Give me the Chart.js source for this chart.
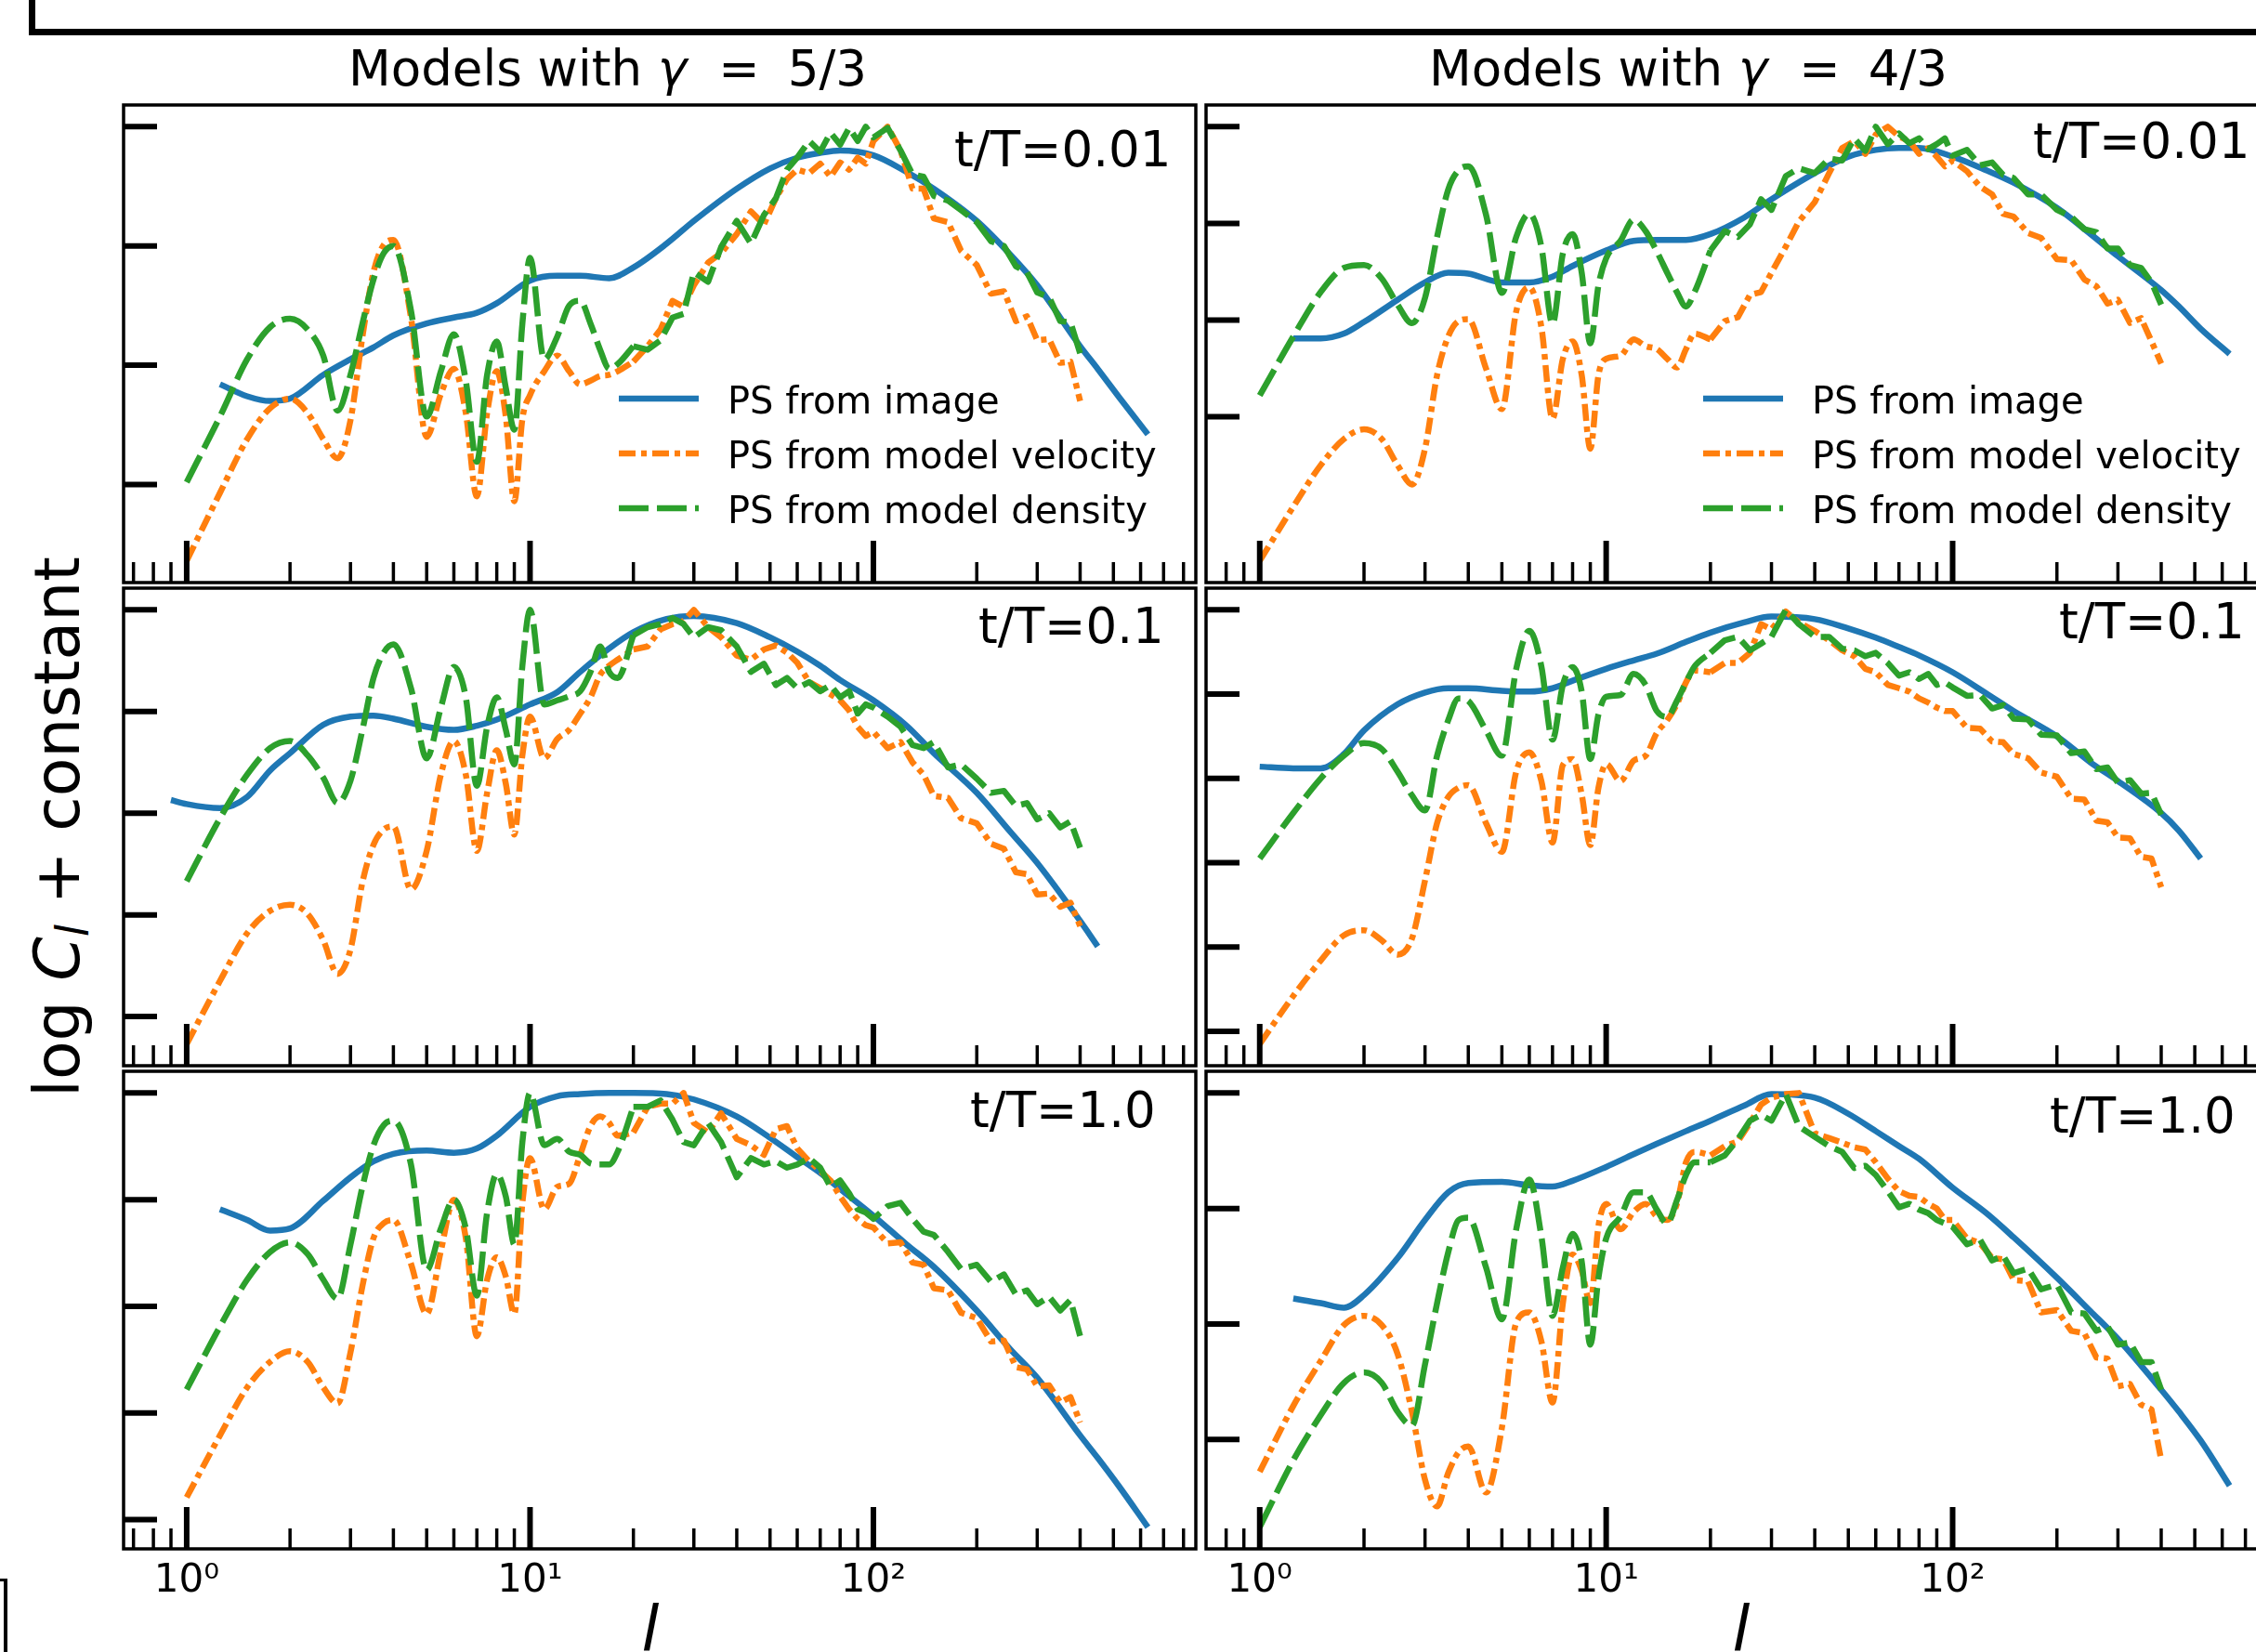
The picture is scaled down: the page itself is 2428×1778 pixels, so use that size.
<!DOCTYPE html>
<html>
<head>
<meta charset="utf-8">
<script src="https://cdn.jsdelivr.net/npm/chart.js@4.4.1/dist/chart.umd.min.js"></script>
<style>
  html, body { margin: 0; padding: 0; background: #fff; }
  body { width: 2428px; height: 1778px; position: relative; overflow: hidden; font-family: "DejaVu Sans", sans-serif; color: #000; }
  .abs { position: absolute; white-space: nowrap; line-height: 1; }
  .title { font-size: 53px; }
  .title i { margin-right: 4px; }
  .eq { margin: 0 30px; }
  .tlabel { font-size: 53px; }
  .legtext { font-size: 40px; }
  .axlabel { font-size: 68px; }
  .axlabel sub { font-size: 70%; vertical-align: -0.22em; line-height: 0; }
  canvas { position: absolute; }
  #outerBox { position: absolute; left: 31px; top: -20px; width: 2500px; height: 58px; box-sizing: border-box; border-left: 7px solid #000; border-bottom: 7px solid #000; }
  #cornerBox { position: absolute; left: -20px; top: 1699px; width: 28px; height: 120px; box-sizing: border-box; border-top: 3px solid #000; border-right: 4px solid #000; }
</style>
</head>
<body>
<div id="outerBox"></div>
<div id="cornerBox"></div>

<div class="abs title" style="left:375px; top:47px;">Models with <i>γ</i><span class="eq">=</span>5/3</div>
<div class="abs title" style="left:1538px; top:47px;">Models with <i>γ</i><span class="eq">=</span>4/3</div>

<div class="abs tlabel" style="left:1027px; top:134px;">t/T=0.01</div>
<div class="abs tlabel" style="left:2188px; top:125px;">t/T=0.01</div>
<div class="abs tlabel" style="left:1053px; top:647px;">t/T=0.1</div>
<div class="abs tlabel" style="left:2216px; top:642px;">t/T=0.1</div>
<div class="abs tlabel" style="left:1044px; top:1168px;">t/T=1.0</div>
<div class="abs tlabel" style="left:2206px; top:1174px;">t/T=1.0</div>

<div class="abs axlabel" style="left:0; top:0; transform-origin:0 0; transform: translate(28px, 890px) rotate(-90deg) translate(-50%, 0);">log <i>C</i><sub><i>l</i></sub> + constant</div>
<div class="abs axlabel" style="left:650px; width:100px; text-align:center; top:1720px;"><i>l</i></div>
<div class="abs axlabel" style="left:1824px; width:100px; text-align:center; top:1720px;"><i>l</i></div>

<script>
// Multipole grids
const ellLow  = [1, 1.25, 1.5, 1.75, 2, 2.25, 2.5, 2.75, 3, 3.25, 3.5, 3.75, 4, 4.5, 5, 5.5, 6, 6.5, 7, 7.5, 8, 8.5, 9, 9.5, 10,
                 11, 12, 13, 14, 15, 16, 17, 18, 20];
const ellHigh = [22, 24, 26, 28, 30, 33, 36, 40, 44, 48, 52, 56, 60, 65, 70, 75, 80, 85, 90, 95, 100,
                 110, 120, 130, 140, 150, 165, 180, 200, 220, 240, 260, 280, 300, 325, 350, 375, 400];
const ell = ellLow.concat(ellHigh);
const ellImage = [0.9, 1, 1.25, 1.5, 1.75, 2, 2.5, 3, 3.5, 4, 5, 6, 7, 8, 10, 12, 14, 17, 20, 25, 30, 40,
                  50, 60, 70, 80, 100, 125, 150, 200, 250, 300, 400, 450, 520, 630];

// gamma = 5/3, t/T = 0.01
const imageA = [null, null, -2.16, -2.26, -2.30, -2.28, -2.08, -1.95, -1.85, -1.75, -1.65, -1.60, -1.56, -1.48, -1.29, -1.25,
  -1.25, -1.27, -1.18, -0.98, -0.79, -0.52, -0.35, -0.26, -0.22, -0.20, -0.24, -0.38, -0.52, -0.79, -1.07, -1.33, -1.84, -2.03, -2.27, -2.58];
const velA = [-3.64, -3.07, -2.62, -2.36, -2.28, -2.40, -2.62, -2.78, -2.46, -1.76, -1.22, -0.99, -0.95, -1.60, -2.60, -2.24, -2.03,
  -2.40, -3.10, -2.40, -2.05, -2.43, -3.14, -2.45, -2.25, -2.05, -1.92, -2.05, -2.16, -2.13, -2.09, -2.08, -2.05, -1.97,
  -1.84, -1.70, -1.46, -1.51, -1.33, -1.14, -1.06, -0.90, -0.71, -0.82, -0.60, -0.44, -0.36, -0.39, -0.31, -0.42, -0.30, -0.36, -0.26,
  -0.31, -0.12, 0.0, -0.20, -0.52, -0.52, -0.77, -0.80, -1.04, -1.16, -1.40, -1.38, -1.63, -1.59, -1.79, -1.78, -1.98, -1.97, -2.30];
const densA = [-2.98, -2.43, -1.95, -1.68, -1.61, -1.70, -1.92, -2.38, -2.08, -1.65, -1.28, -1.06, -1.00, -1.54, -2.43, -2.05, -1.74,
  -2.13, -2.81, -2.08, -1.80, -2.19, -2.54, -1.65, -1.10, -1.95, -1.76, -1.50, -1.46, -1.65, -1.87, -2.03, -1.99, -1.84,
  -1.87, -1.79, -1.60, -1.57, -1.22, -1.30, -1.01, -0.79, -0.98, -0.74, -0.60, -0.36, -0.26, -0.12, -0.21, -0.05, -0.15, -0.01, -0.12,
  0.0, -0.09, -0.01, -0.20, -0.40, -0.42, -0.58, -0.62, -0.70, -0.80, -0.96, -1.00, -1.17, -1.22, -1.39, -1.43, -1.63, -1.64, -1.90];

// gamma = 4/3, t/T = 0.01
const imageB = [null, null, -2.19, -2.19, -2.14, -2.02, -1.79, -1.61, -1.51, -1.52, -1.61, -1.61, -1.55, -1.44, -1.28, -1.18,
  -1.17, -1.17, -1.11, -0.94, -0.75, -0.48, -0.31, -0.24, -0.22, -0.22, -0.31, -0.45, -0.58, -0.84, -1.11, -1.34, -1.69, -1.86, -2.09, -2.35];
const velB = [-4.49, -3.93, -3.50, -3.23, -3.13, -3.23, -3.50, -3.70, -3.33, -2.57, -2.17, -2.01, -1.99, -2.50, -2.92, -1.91, -1.66,
  -2.07, -3.02, -2.40, -2.22, -2.57, -3.33, -2.57, -2.40, -2.37, -2.20, -2.27, -2.30, -2.40, -2.49, -2.30, -2.14, -2.20,
  -2.01, -1.97, -1.74, -1.71, -1.51, -1.24, -0.98, -0.78, -0.48, -0.22, -0.15, -0.28, -0.08, 0.0, -0.10, -0.15, -0.28, -0.22, -0.31,
  -0.41, -0.35, -0.46, -0.62, -0.70, -0.90, -0.93, -1.10, -1.15, -1.37, -1.38, -1.58, -1.65, -1.83, -1.79, -2.03, -1.98, -2.22, -2.45];
const densB = [-2.78, -2.17, -1.71, -1.46, -1.43, -1.57, -1.84, -2.03, -1.77, -1.14, -0.65, -0.45, -0.41, -0.91, -1.72, -1.14, -0.90,
  -1.24, -2.04, -1.31, -1.11, -1.51, -2.24, -1.64, -1.36, -1.18, -0.96, -1.08, -1.29, -1.51, -1.71, -1.86, -1.71, -1.28,
  -1.08, -1.14, -1.01, -0.75, -0.86, -0.51, -0.43, -0.48, -0.33, -0.35, -0.12, -0.25, 0.0, -0.18, -0.07, -0.17, -0.12, -0.23, -0.18,
  -0.12, -0.30, -0.24, -0.40, -0.37, -0.50, -0.53, -0.70, -0.70, -0.86, -0.93, -1.06, -1.09, -1.26, -1.26, -1.43, -1.46, -1.61, -1.84];

// gamma = 5/3, t/T = 0.1
const imageC = [-1.87, -1.91, -1.95, -1.84, -1.58, -1.41, -1.13, -1.05, -1.04, -1.07, -1.15, -1.18, -1.14, -1.08, -0.93, -0.81,
  -0.61, -0.38, -0.22, -0.09, -0.06, -0.13, -0.27, -0.41, -0.55, -0.69, -0.89, -1.14, -1.41, -1.80, -2.18, -2.49, -3.06, -3.31, null, null];
const velC = [-4.27, -3.65, -3.18, -2.96, -2.90, -2.99, -3.25, -3.58, -3.34, -2.68, -2.31, -2.16, -2.13, -2.75, -2.37, -1.62, -1.29,
  -1.62, -2.37, -1.80, -1.38, -1.71, -2.21, -1.43, -1.05, -1.46, -1.27, -1.18, -1.02, -0.86, -0.64, -0.55, -0.49, -0.39,
  -0.36, -0.19, -0.14, -0.11, 0.0, -0.17, -0.27, -0.45, -0.49, -0.39, -0.35, -0.42, -0.52, -0.71, -0.77, -0.83, -0.89, -0.99, -1.15,
  -1.24, -1.20, -1.36, -1.30, -1.50, -1.62, -1.83, -1.85, -2.05, -2.10, -2.30, -2.35, -2.58, -2.60, -2.80, -2.79, -2.92, -2.88, -3.11];
const densC = [-2.67, -2.05, -1.62, -1.36, -1.29, -1.43, -1.65, -1.90, -1.68, -1.18, -0.67, -0.42, -0.34, -0.77, -1.46, -0.96, -0.56,
  -0.86, -1.73, -1.15, -0.86, -1.18, -1.52, -0.55, 0.0, -0.93, -0.89, -0.85, -0.80, -0.61, -0.36, -0.61, -0.67, -0.25,
  -0.17, -0.14, -0.08, -0.14, -0.27, -0.17, -0.20, -0.36, -0.61, -0.53, -0.74, -0.67, -0.77, -0.71, -0.80, -0.74, -0.86, -0.80, -1.02,
  -0.93, -0.96, -1.05, -1.15, -1.33, -1.36, -1.30, -1.55, -1.52, -1.66, -1.80, -1.78, -1.93, -1.90, -2.06, -2.00, -2.14, -2.08, -2.34];

// gamma = 4/3, t/T = 0.1
const imageD = [null, -1.86, -1.88, -1.88, -1.71, -1.43, -1.12, -0.98, -0.93, -0.93, -0.96, -0.97, -0.93, -0.84, -0.70, -0.60,
  -0.52, -0.38, -0.27, -0.15, -0.08, -0.11, -0.22, -0.33, -0.44, -0.54, -0.74, -0.99, -1.20, -1.50, -1.81, -2.03, -2.41, -2.62, -2.95, null];
const velD = [-5.15, -4.58, -4.16, -3.86, -3.80, -3.92, -4.09, -3.90, -3.21, -2.53, -2.22, -2.11, -2.08, -2.53, -2.87, -1.92, -1.69,
  -2.03, -2.76, -1.84, -1.77, -2.19, -2.79, -2.11, -1.83, -2.03, -1.79, -1.73, -1.46, -1.31, -1.12, -0.86, -0.72, -0.74,
  -0.63, -0.63, -0.51, -0.17, -0.23, -0.02, -0.15, -0.25, -0.36, -0.48, -0.55, -0.70, -0.74, -0.89, -0.93, -0.97, -1.05, -1.10, -1.16,
  -1.20, -1.20, -1.40, -1.41, -1.56, -1.57, -1.71, -1.76, -1.93, -1.98, -2.24, -2.25, -2.50, -2.52, -2.70, -2.71, -2.93, -2.95, -3.29];
const densD = [-2.95, -2.41, -2.00, -1.73, -1.58, -1.65, -1.92, -2.20, -2.38, -1.73, -1.31, -1.05, -1.08, -1.43, -1.73, -0.70, -0.25,
  -0.67, -1.54, -0.89, -0.68, -0.97, -1.77, -1.24, -1.03, -1.01, -0.76, -0.89, -1.20, -1.27, -1.08, -0.86, -0.67, -0.51,
  -0.36, -0.32, -0.48, -0.40, -0.32, 0.0, -0.17, -0.32, -0.32, -0.46, -0.48, -0.55, -0.51, -0.63, -0.78, -0.74, -0.82, -0.76, -0.89,
  -0.86, -0.92, -1.02, -1.01, -1.17, -1.13, -1.29, -1.30, -1.48, -1.49, -1.70, -1.68, -1.89, -1.87, -2.05, -2.02, -2.18, -2.17, -2.43];

// gamma = 5/3, t/T = 1.0
const imageE = [null, null, -1.09, -1.19, -1.29, -1.27, -1.01, -0.79, -0.64, -0.57, -0.54, -0.56, -0.52, -0.40, -0.13, -0.03,
  -0.01, 0.0, 0.0, -0.01, -0.06, -0.22, -0.42, -0.60, -0.75, -0.90, -1.15, -1.42, -1.63, -2.04, -2.40, -2.67, -3.21, -3.42, -3.69, -4.07];
const velE = [-3.79, -3.21, -2.76, -2.52, -2.42, -2.52, -2.76, -2.91, -2.43, -1.81, -1.36, -1.22, -1.19, -1.60, -2.07, -1.48, -1.00,
  -1.36, -2.28, -1.75, -1.54, -1.72, -2.07, -1.03, -0.61, -1.09, -0.88, -0.85, -0.58, -0.31, -0.22, -0.28, -0.40, -0.37,
  -0.13, -0.10, -0.10, 0.0, -0.28, -0.37, -0.19, -0.43, -0.49, -0.58, -0.34, -0.31, -0.52, -0.64, -0.73, -0.82, -0.97, -1.09, -1.18,
  -1.24, -1.26, -1.41, -1.40, -1.59, -1.61, -1.83, -1.85, -2.06, -2.11, -2.33, -2.32, -2.57, -2.59, -2.75, -2.74, -2.90, -2.85, -3.09];
const densE = [-2.78, -2.19, -1.75, -1.49, -1.40, -1.51, -1.75, -1.93, -1.42, -0.88, -0.49, -0.30, -0.26, -0.67, -1.66, -1.27, -1.00,
  -1.27, -1.90, -1.12, -0.76, -0.97, -1.42, -0.46, 0.0, -0.49, -0.43, -0.55, -0.58, -0.66, -0.67, -0.67, -0.55, -0.13,
  -0.13, -0.07, -0.25, -0.46, -0.49, -0.28, -0.46, -0.79, -0.61, -0.67, -0.64, -0.70, -0.67, -0.61, -0.70, -0.88, -0.82, -0.94, -1.09,
  -1.12, -1.18, -1.06, -1.03, -1.18, -1.30, -1.33, -1.49, -1.65, -1.61, -1.77, -1.70, -1.89, -1.85, -1.98, -1.91, -2.04, -1.94, -2.28];

// gamma = 4/3, t/T = 1.0
const imageF = [null, null, -1.78, -1.82, -1.86, -1.75, -1.43, -1.10, -0.86, -0.78, -0.77, -0.80, -0.81, -0.76, -0.64, -0.53,
  -0.44, -0.33, -0.24, -0.11, -0.01, -0.04, -0.18, -0.33, -0.46, -0.57, -0.82, -1.04, -1.25, -1.60, -1.89, -2.13, -2.57, -2.76, -3.01, -3.40];
const velF = [-3.28, -2.71, -2.32, -2.01, -1.93, -2.01, -2.26, -2.76, -3.35, -3.58, -3.29, -3.11, -3.06, -3.46, -2.90, -1.99, -1.90,
  -2.15, -2.68, -1.82, -1.40, -1.54, -1.82, -1.15, -0.96, -1.18, -1.03, -0.96, -1.07, -1.10, -0.96, -0.60, -0.51, -0.54,
  -0.46, -0.42, -0.26, -0.10, -0.04, -0.01, 0.0, -0.35, -0.39, -0.43, -0.47, -0.49, -0.60, -0.74, -0.85, -0.89, -0.90, -0.96, -1.00,
  -1.10, -1.10, -1.26, -1.30, -1.43, -1.44, -1.62, -1.63, -1.90, -1.88, -2.06, -2.08, -2.29, -2.30, -2.54, -2.52, -2.70, -2.74, -3.18];
const densF = [-3.76, -3.18, -2.79, -2.51, -2.42, -2.51, -2.76, -2.88, -2.35, -1.82, -1.38, -1.10, -1.08, -1.51, -1.96, -1.18, -0.75,
  -1.24, -1.93, -1.51, -1.22, -1.46, -2.18, -1.60, -1.26, -1.07, -0.86, -0.86, -1.01, -1.13, -0.93, -0.71, -0.60, -0.60,
  -0.54, -0.40, -0.24, -0.19, -0.24, -0.01, -0.29, -0.38, -0.46, -0.51, -0.65, -0.63, -0.71, -0.85, -0.99, -0.96, -1.01, -1.04, -1.10,
  -1.13, -1.16, -1.31, -1.27, -1.45, -1.41, -1.56, -1.52, -1.70, -1.66, -1.90, -1.91, -2.06, -2.02, -2.18, -2.16, -2.33, -2.33, -2.57];

const seriesNames = ['PS from image', 'PS from model velocity', 'PS from model density'];
const majorTicks = [1, 10, 100];
const minorTicks = [0.7, 0.8, 0.9, 2, 3, 4, 5, 6, 7, 8, 9, 20, 30, 40, 50, 60, 70, 80, 90, 200, 300, 400, 500, 600, 700, 800];
const tickText = { 1: '10\u2070', 10: '10\u00b9', 100: '10\u00b2' };

// ---- layout ----
const PANEL_W = 1154, PANEL_H = 514, PAD = 6, LABEL_H = 76;
const colLeft = [133, 1298];
const rowTop = [113, 633, 1153];
const colRange = [[0.655, 869], [0.722, 871]];
const colors = { image: '#1f77b4', vel: '#ff7f0e', dens: '#2ca02c' };
const LW = 6.5;
const dashVel = [18, 6, 6, 6];
const dashDens = [32, 9];
const SPLIT = ellLow.length - 1;   // index of l = 20, where the smooth part hands over to the noisy part

const panels = [
  { row: 0, col: 0, image: imageA, vel: velA, dens: densA, yTicks: [0, -1, -2, -3], legend: true },
  { row: 0, col: 1, image: imageB, vel: velB, dens: densB, yTicks: [0, -1, -2, -3], legend: true },
  { row: 1, col: 0, image: imageC, vel: velC, dens: densC, yTicks: [0, -1, -2, -3, -4] },
  { row: 1, col: 1, image: imageD, vel: velD, dens: densD, yTicks: [0, -1, -2, -3, -4, -5] },
  { row: 2, col: 0, image: imageE, vel: velE, dens: densE, yTicks: [0, -1, -2, -3, -4] },
  { row: 2, col: 1, image: imageF, vel: velF, dens: densF, yTicks: [0, -1, -2, -3] },
];

function points(xs, ys) {
  const out = [];
  xs.forEach((x, i) => { if (ys[i] !== null && ys[i] !== undefined) out.push({ x: x, y: ys[i] }); });
  return out;
}

function yLimits(...arrs) {
  const vals = [].concat(...arrs).filter(v => v !== null);
  const lo = Math.min(...vals), hi = Math.max(...vals);
  const m = 0.05 * (hi - lo);
  return { min: lo - m, max: hi + m };
}

// inward ticks and frame, placed through the chart's own scales
const axesFrame = {
  id: 'axesFrame',
  afterDatasetsDraw(chart, args, opts) {
    const { ctx, chartArea: a } = chart;
    const x = chart.scales.x, y = chart.scales.y;
    ctx.save();
    ctx.strokeStyle = '#000';
    ctx.lineCap = 'butt';
    const seg = (x1, y1, x2, y2) => { ctx.beginPath(); ctx.moveTo(x1, y1); ctx.lineTo(x2, y2); ctx.stroke(); };
    ctx.lineWidth = 3.5;
    opts.minor.forEach(v => {
      if (v <= x.min || v >= x.max) return;
      const px = x.getPixelForValue(v);
      seg(px, a.bottom, px, a.bottom - 22);
    });
    ctx.lineWidth = 6;
    opts.major.forEach(v => {
      if (v <= x.min || v >= x.max) return;
      const px = x.getPixelForValue(v);
      seg(px, a.bottom, px, a.bottom - 45);
    });
    opts.yTicks.forEach(v => {
      const py = y.getPixelForValue(v);
      seg(a.left, py, a.left + 36, py);
    });
    ctx.lineWidth = 3.5;
    ctx.strokeRect(a.left, a.top, a.right - a.left, a.bottom - a.top);
    ctx.restore();
  }
};

panels.forEach(p => {
  const bottomRow = p.row === 2;
  const cv = document.createElement('canvas');
  const w = PANEL_W + 2 * PAD;
  const h = PANEL_H + PAD + (bottomRow ? LABEL_H : PAD);
  cv.width = w; cv.height = h;
  cv.style.left = (colLeft[p.col] - PAD) + 'px';
  cv.style.top = (rowTop[p.row] - PAD) + 'px';
  cv.style.width = w + 'px'; cv.style.height = h + 'px';
  document.body.appendChild(cv);

  const lim = yLimits(p.image, p.vel, p.dens);
  const line = (label, pts, color, dash, order, smooth) => ({
    label, data: pts, borderColor: color, backgroundColor: color,
    borderWidth: LW, borderDash: dash, pointRadius: 0, fill: false,
    cubicInterpolationMode: smooth ? 'monotone' : 'default', tension: 0,
    borderJoinStyle: 'round', order
  });
  const lowL = ell.slice(0, SPLIT + 1), highL = ell.slice(SPLIT);

  new Chart(cv, {
    type: 'line',
    data: {
      datasets: [
        line(seriesNames[0], points(ellImage, p.image), colors.image, [], 3, true),
        line(seriesNames[1], points(lowL, p.vel.slice(0, SPLIT + 1)), colors.vel, dashVel, 2, true),
        line(seriesNames[1], points(highL, p.vel.slice(SPLIT)), colors.vel, dashVel, 2, false),
        line(seriesNames[2], points(lowL, p.dens.slice(0, SPLIT + 1)), colors.dens, dashDens, 1, true),
        line(seriesNames[2], points(highL, p.dens.slice(SPLIT)), colors.dens, dashDens, 1, false),
      ]
    },
    options: {
      responsive: false, animation: false, devicePixelRatio: 1, parsing: false, events: [],
      layout: { padding: { left: PAD, right: PAD, top: PAD, bottom: bottomRow ? 0 : PAD } },
      scales: {
        x: {
          type: 'logarithmic', min: colRange[p.col][0], max: colRange[p.col][1], display: bottomRow,
          afterBuildTicks: s => { s.ticks = majorTicks.map(v => ({ value: v })); },
          afterFit: bottomRow ? (s => { s.height = LABEL_H; }) : undefined,
          grid: { display: false, drawTicks: false }, border: { display: false },
          ticks: {
            autoSkip: false, maxRotation: 0, padding: 10, color: '#000',
            font: { family: 'DejaVu Sans', size: 42 },
            callback: v => tickText[v] || ''
          }
        },
        y: { type: 'linear', min: lim.min, max: lim.max, display: false }
      },
      plugins: {
        legend: { display: false }, tooltip: { enabled: false },
        axesFrame: { major: majorTicks, minor: minorTicks, yTicks: p.yTicks }
      }
    },
    plugins: [axesFrame]
  });

  if (p.legend) {
    const lx = p.col === 0 ? 666 : 1833;
    const tx = lx + 117;
    const rowsY = [429, 488, 547];
    const dashes = [[], dashVel, dashDens];
    const cols = [colors.image, colors.vel, colors.dens];
    const ns = 'http://www.w3.org/2000/svg';
    const svg = document.createElementNS(ns, 'svg');
    svg.setAttribute('width', 90); svg.setAttribute('height', 170);
    svg.style.position = 'absolute'; svg.style.left = lx + 'px'; svg.style.top = '400px';
    rowsY.forEach((ry, i) => {
      const ln = document.createElementNS(ns, 'line');
      ln.setAttribute('x1', 0); ln.setAttribute('x2', 86);
      ln.setAttribute('y1', ry - 400); ln.setAttribute('y2', ry - 400);
      ln.setAttribute('stroke', cols[i]); ln.setAttribute('stroke-width', LW);
      if (dashes[i].length) ln.setAttribute('stroke-dasharray', dashes[i].join(' '));
      svg.appendChild(ln);
      const t = document.createElement('div');
      t.className = 'abs legtext';
      t.style.left = tx + 'px'; t.style.top = (ry + 16 - 34) + 'px';
      t.textContent = seriesNames[i];
      document.body.appendChild(t);
    });
    document.body.appendChild(svg);
  }
});
</script>
</body>
</html>
